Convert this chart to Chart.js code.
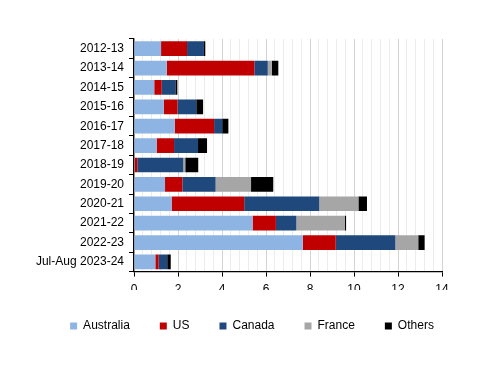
<!DOCTYPE html>
<html>
<head>
<meta charset="utf-8">
<script src="https://cdn.jsdelivr.net/npm/chart.js@4"></script>
<style>
  html, body { margin: 0; padding: 0; background: #fff; }
  #wrap { width: 500px; height: 386px; }
</style>
</head>
<body>
<div id="wrap"><canvas id="c" width="500" height="386"></canvas></div>
<script>
const categories = ["2012-13","2013-14","2014-15","2015-16","2016-17","2017-18","2018-19","2019-20","2020-21","2021-22","2022-23","Jul-Aug 2023-24"];
const australia = [1.23, 1.49, 0.92, 1.36, 1.85, 1.03, 0.03, 1.41, 1.71, 5.39, 7.67, 0.97];
const us        = [1.18, 3.98, 0.34, 0.62, 1.79, 0.79, 0.12, 0.79, 3.30, 1.06, 1.50, 0.15];
const canada    = [0.77, 0.61, 0.62, 0.85, 0.37, 1.09, 2.09, 1.51, 3.41, 0.93, 2.71, 0.39];
const france    = [0.00, 0.18, 0.00, 0.00, 0.00, 0.00, 0.09, 1.61, 1.78, 2.21, 1.04, 0.00];
const others    = [0.06, 0.30, 0.09, 0.31, 0.28, 0.41, 0.59, 1.01, 0.39, 0.05, 0.29, 0.16];
const xMin = 0, xMax = 14, xMinorStep = 0.4, xLabelStep = 2;

const seriesNames = ["Australia", "US", "Canada", "France", "Others"];
const seriesColors = ["#8EB4E3", "#C00000", "#1F497D", "#A6A6A6", "#000000"];
const seriesData = [australia, us, canada, france, others];

const FONT = "'Liberation Sans', Arial, sans-serif";
Chart.defaults.font.family = FONT;
Chart.defaults.font.size = 12;
Chart.defaults.color = "#000";

function isMajor(v) {
  const r = v / xLabelStep;
  return Math.abs(r - Math.round(r)) < 1e-6;
}

const legendShift = {
  id: "legendShift",
  afterLayout(chart) {
    if (chart.legend) { chart.legend.left += 31; chart.legend.right += 31; }
  }
};

new Chart(document.getElementById("c"), {
  type: "bar",
  data: {
    labels: categories,
    datasets: seriesNames.map((n, i) => ({
      label: n,
      data: seriesData[i],
      backgroundColor: seriesColors[i],
      borderWidth: 0,
      categoryPercentage: 1,
      barPercentage: 0.76
    }))
  },
  plugins: [legendShift],
  options: {
    indexAxis: "y",
    responsive: false,
    animation: false,
    layout: { padding: { left: 0, right: 58, top: 39, bottom: 44 } },
    plugins: {
      legend: {
        position: "bottom",
        labels: {
          boxWidth: 7, boxHeight: 7, padding: 30,
          font: { size: 12, family: FONT }, color: "#000"
        }
      },
      tooltip: { enabled: false }
    },
    scales: {
      x: {
        stacked: true,
        min: xMin, max: xMax,
        afterBuildTicks(scale) {
          const n = Math.round((xMax - xMin) / xMinorStep);
          const t = [];
          for (let i = 0; i <= n; i++) t.push({ value: +(xMin + i * xMinorStep).toFixed(4) });
          scale.ticks = t;
        },
        afterFit(scale) { scale.height -= 13; },
        ticks: {
          autoSkip: false, maxRotation: 0, padding: 6,
          callback: (v) => isMajor(v) ? String(Math.round(v)) : "",
          font: { size: 12, family: FONT }, color: "#000"
        },
        grid: {
          color: (ctx) => (ctx.tick && isMajor(ctx.tick.value)) ? "#d4d4d4" : "#ececec",
          tickColor: (ctx) => (ctx.tick && isMajor(ctx.tick.value)) ? "#000" : "rgba(0,0,0,0)",
          tickLength: 5,
          lineWidth: 1
        },
        border: { display: true, color: "#000", width: 1.3 }
      },
      y: {
        stacked: true,
        afterFit(scale) { scale.width = 134; },
        ticks: { autoSkip: false, padding: 5, font: { size: 12, family: FONT }, color: "#000" },
        grid: { drawOnChartArea: false, drawTicks: true, tickLength: 5, tickColor: "#000", offset: true },
        border: { display: true, color: "#000", width: 1.3 }
      }
    }
  }
});
</script>
</body>
</html>
